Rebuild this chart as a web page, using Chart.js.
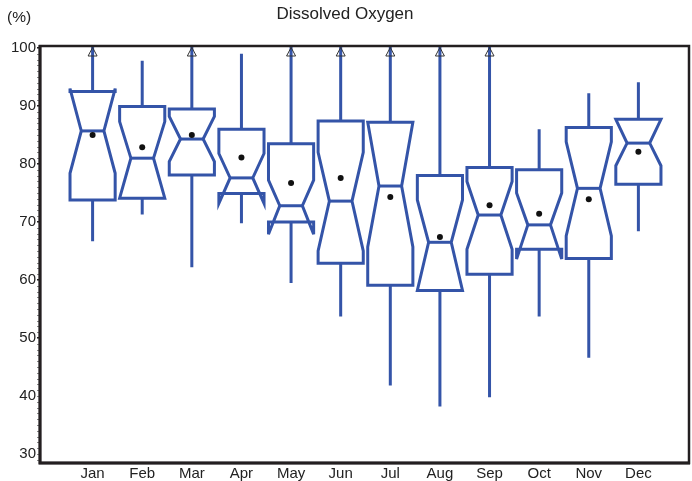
<!DOCTYPE html>
<html>
<head>
<meta charset="utf-8">
<script src="https://cdn.jsdelivr.net/npm/chart.js@4"></script>
<style>
  html, body { margin: 0; padding: 0; background: #fff; }
  #wrap { width: 692px; height: 481px; }
</style>
</head>
<body>
<div id="wrap"><canvas id="chart" width="692" height="481"></canvas></div>
<script>
const months = ["Jan", "Feb", "Mar", "Apr", "May", "Jun", "Jul", "Aug", "Sep", "Oct", "Nov", "Dec"];
const yTicks = [30, 40, 50, 60, 70, 80, 90, 100];

// null = whisker runs past the top of the axis (drawn with an arrow)
const whiskerHigh = [null, 97.8, null, 99.0, null, null, null, null, null, 86.0, 92.2, 94.1];
const q3 =        [92.5, 89.9, 89.5, 86.0, 83.5, 87.4, 87.2, 78.0, 79.4, 79.0, 86.3, 87.7];
const notchHigh = [93.0, 87.3, 88.2, 81.8, 77.2, 82.0, 87.2, 73.8, 77.0, 75.0, 83.8, 87.7];
const median =    [85.7, 81.0, 84.3, 77.6, 72.8, 73.6, 76.2, 66.5, 71.2, 69.5, 75.8, 83.6];
const notchLow =  [78.4, 74.1, 80.4, 73.2, 67.9, 65.0, 65.7, 58.2, 65.3, 63.6, 67.6, 79.7];
const q1 =        [73.8, 74.1, 78.1, 74.9, 70.0, 62.9, 59.1, 58.2, 61.0, 65.3, 63.7, 76.5];
const whiskerLow = [66.7, 71.3, 62.2, 69.8, 59.5, 53.7, 41.8, 38.2, 39.8, 53.7, 46.6, 68.4];
const means =     [85.0, 82.9, 85.0, 81.1, 76.7, 77.6, 74.3, 67.4, 72.9, 71.4, 73.9, 82.1];

const BLUE = "rgb(52, 84, 168)";
const INK = "#231f20";
const FONT = "'Liberation Sans', Arial, sans-serif";

const boxPlugin = {
  id: "notchedBoxes",
  beforeDatasetsDraw(chart) {
    const { ctx, scales: { x, y }, chartArea } = chart;
    const halfW = 0.455, halfN = 0.228;
    ctx.save();
    ctx.strokeStyle = BLUE;
    ctx.lineWidth = 3;
    ctx.lineJoin = "miter";
    ctx.miterLimit = 5;
    months.forEach((m, i) => {
      const c = i + 1;
      const px = v => x.getPixelForValue(v);
      const py = v => y.getPixelForValue(v);
      const xl = px(c - halfW), xr = px(c + halfW);
      const nl = px(c - halfN), nr = px(c + halfN);
      const xc = px(c);

      // whiskers
      const top = whiskerHigh[i] === null ? chartArea.top : py(whiskerHigh[i]);
      ctx.beginPath();
      ctx.moveTo(xc, py(q3[i]));
      ctx.lineTo(xc, top);
      ctx.moveTo(xc, py(q1[i]));
      ctx.lineTo(xc, py(whiskerLow[i]));
      ctx.stroke();

      // notched box
      ctx.beginPath();
      ctx.moveTo(xl, py(q3[i]));
      ctx.lineTo(xl, py(notchHigh[i]));
      ctx.lineTo(nl, py(median[i]));
      ctx.lineTo(xl, py(notchLow[i]));
      ctx.lineTo(xl, py(q1[i]));
      ctx.lineTo(xr, py(q1[i]));
      ctx.lineTo(xr, py(notchLow[i]));
      ctx.lineTo(nr, py(median[i]));
      ctx.lineTo(xr, py(notchHigh[i]));
      ctx.lineTo(xr, py(q3[i]));
      ctx.closePath();
      ctx.stroke();

      // median
      ctx.beginPath();
      ctx.moveTo(nl, py(median[i]));
      ctx.lineTo(nr, py(median[i]));
      ctx.stroke();
    });
    ctx.restore();
  },
  afterDatasetsDraw(chart) {
    const { ctx, scales: { x, y }, chartArea } = chart;
    ctx.save();
    // off-scale arrows
    ctx.strokeStyle = "#333";
    ctx.lineWidth = 1;
    months.forEach((m, i) => {
      if (whiskerHigh[i] !== null) return;
      const xc = x.getPixelForValue(i + 1);
      ctx.beginPath();
      ctx.moveTo(xc, chartArea.top + 1.5);
      ctx.lineTo(xc - 4.5, chartArea.top + 10);
      ctx.lineTo(xc + 4.5, chartArea.top + 10);
      ctx.closePath();
      ctx.stroke();
    });

    // minor ticks on the left axis
    ctx.strokeStyle = "#888";
    for (let v = 29; v <= 100; v++) {
      const py = Math.round(y.getPixelForValue(v)) + 0.5;
      ctx.beginPath();
      ctx.moveTo(chartArea.left - 3, py);
      ctx.lineTo(chartArea.left, py);
      ctx.stroke();
    }

    // frame
    ctx.strokeStyle = INK;
    ctx.lineWidth = 2.5;
    ctx.strokeRect(chartArea.left, chartArea.top, chartArea.right - chartArea.left, chartArea.bottom - chartArea.top);
    ctx.lineWidth = 3;
    ctx.beginPath();
    ctx.moveTo(chartArea.left, chartArea.top - 1);
    ctx.lineTo(chartArea.left, chartArea.bottom);
    ctx.lineTo(chartArea.right + 1, chartArea.bottom);
    ctx.stroke();

    // unit label
    ctx.fillStyle = "#222";
    ctx.font = "15.5px " + FONT;
    ctx.textAlign = "left";
    ctx.textBaseline = "alphabetic";
    ctx.fillText("(%)", 7, 22);
    ctx.restore();
  }
};

new Chart(document.getElementById("chart"), {
  type: "scatter",
  data: {
    datasets: [{
      data: means.map((v, i) => ({ x: i + 1, y: v })),
      pointRadius: 3,
      pointHoverRadius: 3,
      pointBackgroundColor: "#111",
      pointBorderWidth: 0,
      showLine: false
    }]
  },
  options: {
    responsive: false,
    animation: false,
    events: [],
    layout: { padding: { right: 2, left: 0, top: 0, bottom: 0 } },
    plugins: {
      legend: { display: false },
      tooltip: { enabled: false },
      title: {
        display: true,
        text: "Dissolved Oxygen",
        color: "#222",
        font: { family: FONT, size: 17, weight: "normal" },
        padding: { top: 4, bottom: 21.6 }
      }
    },
    scales: {
      x: {
        type: "linear",
        min: -0.06,
        max: 13.02,
        afterBuildTicks: s => { s.ticks = months.map((m, i) => ({ value: i + 1 })); },
        afterFit: s => { s.height = 18; },
        ticks: {
          autoSkip: false,
          maxRotation: 0,
          padding: 1.5,
          color: "#222",
          font: { family: FONT, size: 15 },
          callback: v => months[v - 1] || ""
        },
        grid: { display: false, drawTicks: false },
        border: { display: false }
      },
      y: {
        min: 28.45,
        max: 100.34,
        afterBuildTicks: s => { s.ticks = yTicks.map(v => ({ value: v })); },
        afterFit: s => { s.width = 40; },
        ticks: {
          padding: 1,
          color: "#222",
          font: { family: FONT, size: 15 }
        },
        grid: { display: true, drawOnChartArea: false, drawTicks: true, tickLength: 3, color: INK },
        border: { display: false }
      }
    }
  },
  plugins: [boxPlugin]
});
</script>
</body>
</html>
